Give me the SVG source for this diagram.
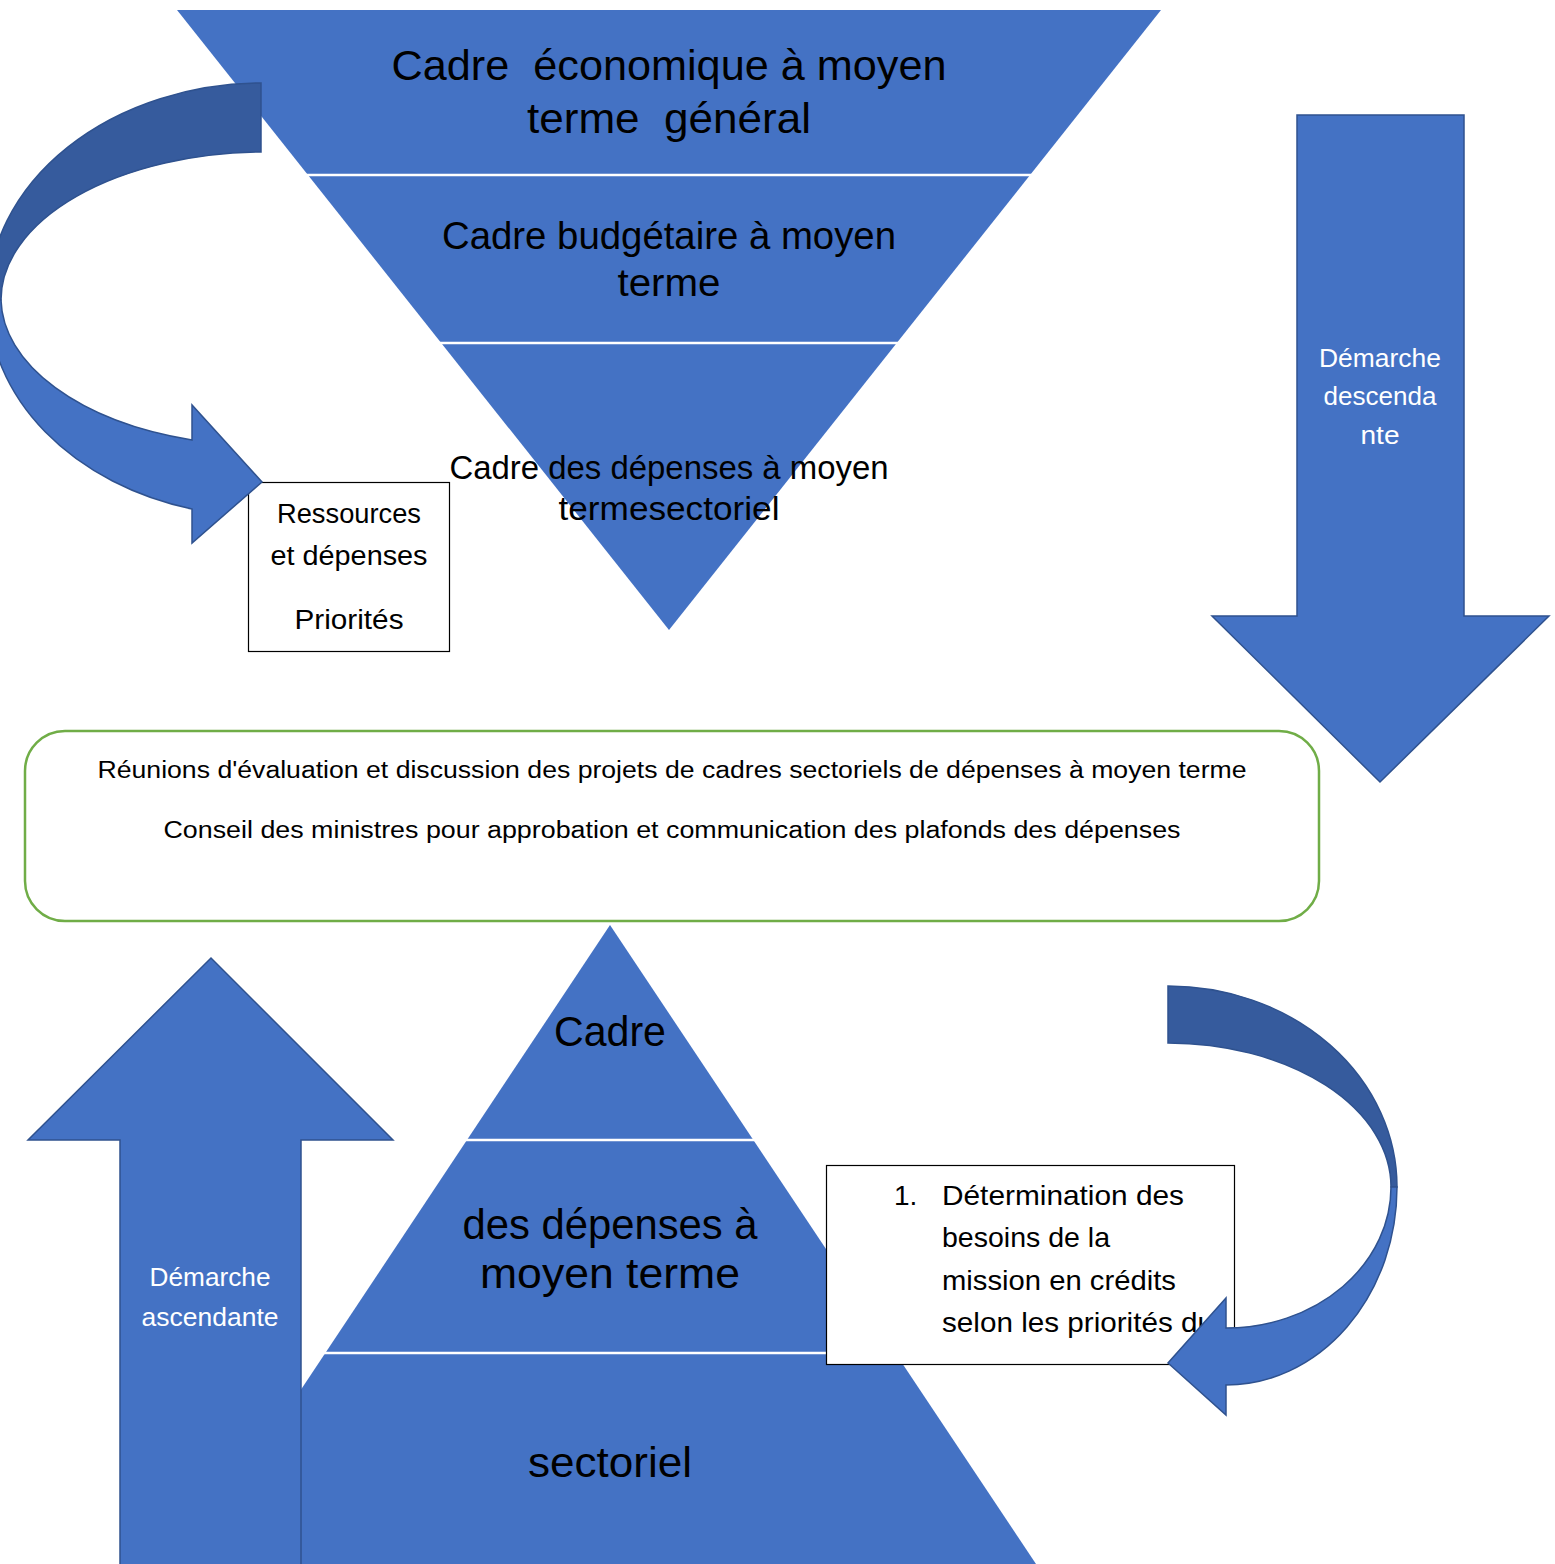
<svg xmlns="http://www.w3.org/2000/svg" width="1555" height="1564" viewBox="0 0 1555 1564">
<style>
.tri{fill:#4472c4;}
.sep{stroke:#ffffff;stroke-width:2.5;fill:none;}
.arr{fill:#4472c4;stroke:#2f528f;stroke-width:1.5;}
.dark{fill:#365b9d;stroke:#2f528f;stroke-width:1.5;}
.box{fill:#ffffff;stroke:#000000;stroke-width:1.2;}
.t{font-family:"Liberation Sans",Arial,sans-serif;fill:#000000;text-anchor:middle;}
.w{font-family:"Liberation Sans",Arial,sans-serif;fill:#ffffff;text-anchor:middle;}
.l{font-family:"Liberation Sans",Arial,sans-serif;fill:#000000;}
</style>
<rect x="0" y="0" width="1555" height="1564" fill="#ffffff"/>

<g id="top-pyramid">
  <polygon class="tri" points="177,10 1161,10 669,630"/>
  <line class="sep" x1="300" y1="175" x2="1040" y2="175"/>
  <line class="sep" x1="430" y1="343" x2="905" y2="343"/>
  <text class="t" x="669" y="80" font-size="43" textLength="555" lengthAdjust="spacingAndGlyphs" xml:space="preserve">Cadre  économique à moyen</text>
  <text class="t" x="669" y="133" font-size="43" textLength="284" lengthAdjust="spacingAndGlyphs" xml:space="preserve">terme  général</text>
  <text class="t" x="669" y="249" font-size="38" textLength="454" lengthAdjust="spacingAndGlyphs">Cadre budgétaire à moyen</text>
  <text class="t" x="669" y="296" font-size="38" textLength="103" lengthAdjust="spacingAndGlyphs">terme</text>
  <text class="t" x="669" y="479" font-size="33" textLength="439" lengthAdjust="spacingAndGlyphs">Cadre des dépenses à moyen</text>
  <text class="t" x="669" y="520" font-size="33" textLength="221" lengthAdjust="spacingAndGlyphs">termesectoriel</text>
</g>

<g id="bottom-pyramid">
  <polygon class="tri" points="610,925 1036,1564 185,1564"/>
  <line class="sep" x1="455" y1="1140" x2="765" y2="1140"/>
  <line class="sep" x1="300" y1="1353" x2="910" y2="1353"/>
  <text class="t" x="610" y="1046" font-size="42" textLength="112" lengthAdjust="spacingAndGlyphs">Cadre</text>
  <text class="t" x="610" y="1239" font-size="42" textLength="295" lengthAdjust="spacingAndGlyphs">des dépenses à</text>
  <text class="t" x="610" y="1288" font-size="42" textLength="260" lengthAdjust="spacingAndGlyphs">moyen terme</text>
  <text class="t" x="610" y="1477" font-size="42" textLength="164" lengthAdjust="spacingAndGlyphs">sectoriel</text>
</g>

<g id="arrow-descendante">
  <polygon class="arr" points="1297,115 1464,115 1464,616 1549,616 1380,782 1212,616 1297,616"/>
  <text class="w" x="1380" y="367" font-size="26" textLength="122" lengthAdjust="spacingAndGlyphs">Démarche</text>
  <text class="w" x="1380" y="405" font-size="26" textLength="113" lengthAdjust="spacingAndGlyphs">descenda</text>
  <text class="w" x="1380" y="444" font-size="26" textLength="39" lengthAdjust="spacingAndGlyphs">nte</text>
</g>

<g id="arrow-ascendante">
  <polygon class="arr" points="120,1570 120,1140 28,1140 211,958 393,1140 301,1140 301,1570"/>
  <text class="w" x="210" y="1286" font-size="26" textLength="121" lengthAdjust="spacingAndGlyphs">Démarche</text>
  <text class="w" x="210" y="1326" font-size="26" textLength="137" lengthAdjust="spacingAndGlyphs">ascendante</text>
</g>

<g id="reunions">
  <rect x="25" y="731" width="1294" height="190" rx="40" ry="40" fill="#ffffff" stroke="#70ad47" stroke-width="2.5"/>
  <text class="t" x="672" y="778" font-size="23" textLength="1149" lengthAdjust="spacingAndGlyphs">Réunions d'évaluation et discussion des projets de cadres sectoriels de dépenses à moyen terme</text>
  <text class="t" x="672" y="838" font-size="23" textLength="1017" lengthAdjust="spacingAndGlyphs">Conseil des ministres pour approbation et communication des plafonds des dépenses</text>
</g>

<g id="ressources">
  <rect class="box" x="248.5" y="482.5" width="201" height="169"/>
  <text class="t" x="349" y="523" font-size="27" textLength="144" lengthAdjust="spacingAndGlyphs">Ressources</text>
  <text class="t" x="349" y="565" font-size="27" textLength="157" lengthAdjust="spacingAndGlyphs">et dépenses</text>
  <text class="t" x="349" y="629" font-size="27" textLength="109" lengthAdjust="spacingAndGlyphs">Priorités</text>
</g>

<g id="determination">
  <rect class="box" x="826.5" y="1165.5" width="408" height="199"/>
  <text class="l" x="894" y="1205" font-size="28">1.</text>
  <text class="l" x="942" y="1205" font-size="28" textLength="242" lengthAdjust="spacingAndGlyphs">Détermination des</text>
  <text class="l" x="942" y="1247" font-size="28" textLength="168" lengthAdjust="spacingAndGlyphs">besoins de la</text>
  <text class="l" x="942" y="1290" font-size="28" textLength="234" lengthAdjust="spacingAndGlyphs">mission en crédits</text>
  <text class="l" x="942" y="1332" font-size="28" textLength="272" lengthAdjust="spacingAndGlyphs">selon les priorités du</text>
</g>

<g id="connectors">
  <g id="curved-arrow-left">
    <path class="dark" d="M 261 83 A 275 217 0 0 0 -12 300 L 1 300 A 264 148 0 0 1 261 152 Z"/>
    <path class="arr" d="M -12 300 A 275 217 0 0 0 192 509 L 192 543 L 262 482 L 192 405 L 192 440 A 264 148 0 0 1 1 300 Z"/>
  </g>
  <g id="curved-arrow-right">
    <path class="dark" d="M 1168 986 A 229 201 0 0 1 1397 1187 L 1391 1187 A 223 144 0 0 0 1168 1043 Z"/>
    <path class="arr" d="M 1397 1187 A 171 198 0 0 1 1226 1385 L 1226 1415 L 1168 1363 L 1226 1298 L 1226 1328 A 165 141 0 0 0 1391 1187 Z"/>
  </g>
</g>
</svg>
